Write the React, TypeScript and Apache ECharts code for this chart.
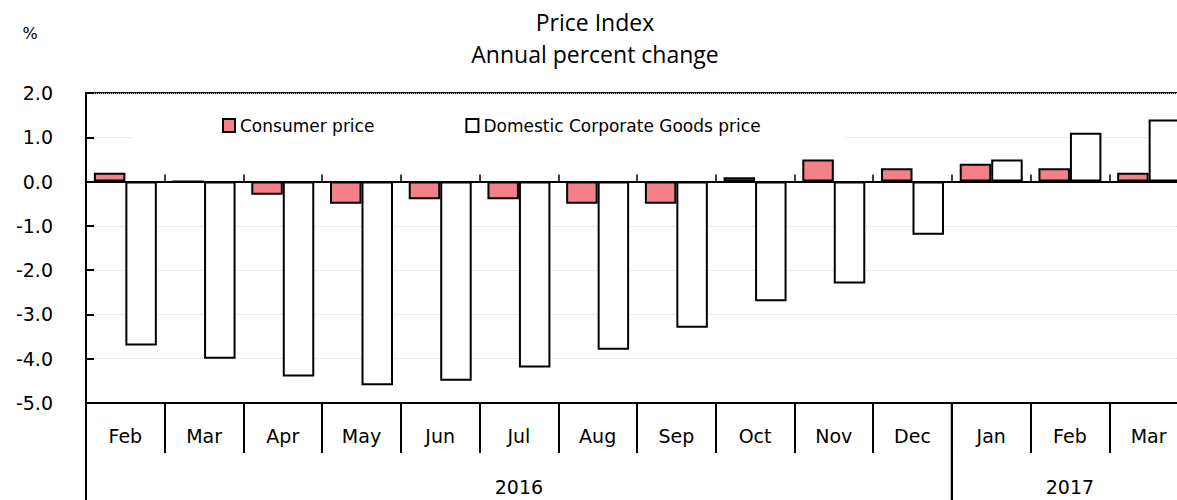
import React, { useEffect, useRef } from "react";
import * as echarts from "echarts";

const months = ["Feb", "Mar", "Apr", "May", "Jun", "Jul", "Aug", "Sep", "Oct", "Nov", "Dec", "Jan", "Feb", "Mar"];
const consumerPrice = [0.2, 0.0, -0.3, -0.5, -0.4, -0.4, -0.5, -0.5, 0.1, 0.5, 0.3, 0.4, 0.3, 0.2];
const corporateGoodsPrice = [-3.7, -4.0, -4.4, -4.6, -4.5, -4.2, -3.8, -3.3, -2.7, -2.3, -1.2, 0.5, 1.1, 1.4];
const years = [
  { label: "2016", start: 0, count: 11 },
  { label: "2017", start: 11, count: 3 },
];
const seriesNames = ["Consumer price", "Domestic Corporate Goods price"];
const titleLines = ["Price Index", "Annual percent change"];
const unitLabel = "%";

const FONT = "DejaVu Sans";

export default function App() {
  const ref = useRef<HTMLDivElement>(null);
  useEffect(() => {
    if (!ref.current) return;
    const chart = echarts.init(ref.current, null, { renderer: "svg" });
    const option: any = {
      animation: false,
      textStyle: { fontFamily: FONT },
      title: {
        text: titleLines.join("\n"),
        left: 590,
        top: 1,
        textAlign: "center",
        textStyle: { fontFamily: "Open Sans", fontSize: 23, fontWeight: "normal", color: "#000", lineHeight: 32 },
      },
      legend: {
        left: 222,
        top: 117,
        padding: 0,
        itemWidth: 12,
        itemHeight: 13,
        itemGap: 91,
        icon: "rect",
        z: 10,
        textStyle: { fontSize: 17, color: "#000", fontFamily: FONT },
        itemStyle: { borderColor: "#000", borderWidth: 2 },
        data: seriesNames,
      },
      grid: {
        left: 86,
        top: 93,
        right: 0,
        height: 310,
        show: true,
        borderColor: "#000",
        borderWidth: 2,
        backgroundColor: "transparent",
      },
      xAxis: [
        {
          type: "category",
          data: months,
          position: "bottom",
          axisLine: { onZero: true, lineStyle: { color: "#000", width: 2 } },
          axisTick: { show: true, inside: true, length: 7, lineStyle: { color: "#000", width: 1.5 } },
          axisLabel: { show: false },
          splitLine: { show: false },
        },
        {
          type: "category",
          data: months,
          position: "bottom",
          axisLine: { onZero: false, lineStyle: { color: "#000", width: 2 } },
          axisTick: { show: true, length: 50, lineStyle: { color: "#000", width: 2 } },
          axisLabel: { fontSize: 19, color: "#000", margin: 23, interval: 0, fontFamily: FONT },
          splitLine: { show: false },
        },
      ],
      yAxis: {
        type: "value",
        min: -5,
        max: 2,
        interval: 1,
        axisLine: { show: true, lineStyle: { color: "#000", width: 2 } },
        axisTick: { show: true, inside: true, length: 8, lineStyle: { color: "#000", width: 2 } },
        axisLabel: {
          formatter: (v: number) => v.toFixed(1),
          fontSize: 19,
          color: "#000",
          margin: 33,
          fontFamily: FONT,
        },
        splitLine: { show: true, lineStyle: { color: "#d6d6d6", width: 1, type: "dotted" } },
      },
      series: [
        {
          type: "bar",
          name: seriesNames[0],
          data: consumerPrice,
          xAxisIndex: 0,
          barWidth: "40%",
          barGap: "0%",
          itemStyle: { color: "#F4808A", borderColor: "#000", borderWidth: 2 },
        },
        {
          type: "bar",
          name: seriesNames[1],
          data: corporateGoodsPrice,
          xAxisIndex: 0,
          barWidth: "40%",
          barGap: "0%",
          itemStyle: { color: "#fff", borderColor: "#000", borderWidth: 2 },
        },
      ],
    };
    chart.setOption(option);

    const c0 = chart.convertToPixel({ xAxisIndex: 1 }, 0) as unknown as number;
    const c1 = chart.convertToPixel({ xAxisIndex: 1 }, 1) as unknown as number;
    const bw = c1 - c0;
    const axisY = chart.convertToPixel({ yAxisIndex: 0 }, -5) as unknown as number;
    const bottom = 500;
    const graphics: any[] = [
      {
        type: "rect",
        z: 5,
        shape: { x: 131, y: 113, width: 714, height: 32 },
        style: { fill: "#fff" },
      },
      {
        type: "text",
        x: 30,
        y: 33,
        style: { text: unitLabel, fontSize: 16, fill: "#000", fontFamily: FONT, align: "center", verticalAlign: "middle" },
      },
    ];
    years.forEach((yr) => {
      const left = c0 - bw / 2 + yr.start * bw;
      const right = left + yr.count * bw;
      graphics.push({
        type: "line",
        shape: { x1: left, y1: axisY, x2: left, y2: bottom },
        style: { stroke: "#000", lineWidth: 2 },
      });
      graphics.push({
        type: "line",
        shape: { x1: right, y1: axisY, x2: right, y2: bottom },
        style: { stroke: "#000", lineWidth: 2 },
      });
      graphics.push({
        type: "text",
        x: (left + right) / 2,
        y: axisY + 84,
        style: { text: yr.label, fontSize: 19, fill: "#000", fontFamily: FONT, align: "center", verticalAlign: "middle" },
      });
    });
    chart.setOption({ graphic: graphics });

    return () => chart.dispose();
  }, []);
  return (
    <div style={{ position: "absolute", left: 0, top: 0, width: 1177, height: 500, overflow: "hidden" }}>
      <div ref={ref} style={{ width: 1188, height: 500 }} />
    </div>
  );
}
